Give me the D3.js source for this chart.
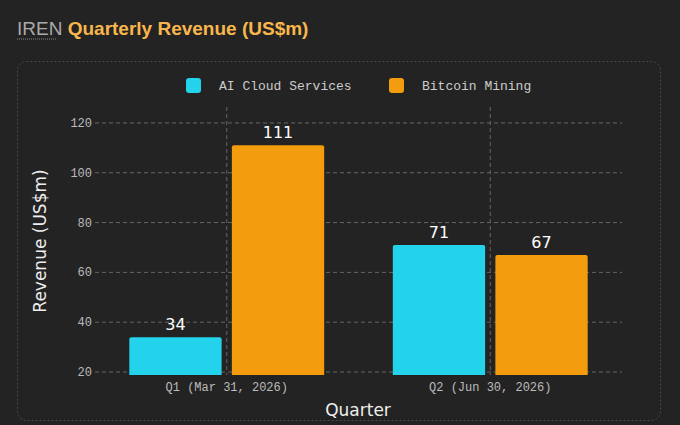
<!DOCTYPE html>
<html><head><meta charset="utf-8">
<script src="https://cdn.jsdelivr.net/npm/d3@7"></script>
<style>
body{margin:0;background:#232323;}
svg{display:block;}
</style></head>
<body><svg></svg>
<script>
const quarters = ['Q1 (Mar 31, 2026)', 'Q2 (Jun 30, 2026)']
const seriesNames = ['AI Cloud Services', 'Bitcoin Mining']
const aiCloud = [34, 71]
const bitcoin = [111, 67]
const yTicks = [20, 40, 60, 80, 100, 120]
const colors = ['#22d3eb', '#f39c0e']

const w = 680, h = 425
const svg = d3.select('svg').attr('width', w).attr('height', h)

// title
const title = svg.append('text').attr('x', 17).attr('y', 35)
	.attr('font-family', '"Liberation Sans Narrow", "Arial Narrow", "Liberation Sans", sans-serif')
	.attr('font-size', 19)
title.append('tspan').attr('fill', '#aaa').text('IREN')
title.append('tspan').attr('fill', '#f8b64c').attr('font-weight', 'bold').text(' Quarterly Revenue (US$m)')
svg.append('line').attr('x1', 17).attr('x2', 56).attr('y1', 39).attr('y2', 39)
	.attr('stroke', '#888').attr('stroke-dasharray', '1,1')

// panel
svg.append('rect').attr('x', 17.5).attr('y', 61.5).attr('width', 643).attr('height', 359).attr('rx', 9)
	.attr('fill', 'none').attr('stroke', '#4a4a4a').attr('stroke-dasharray', '2,2')

const scX = d3.scaleBand().domain(quarters).range([95, 622])
const scSub = d3.scaleBand().domain(seriesNames).range([-100, 100]).paddingInner(0.1).paddingOuter(0.025)
const scY = d3.scaleLinear().domain([18.8, 126.4]).range([375, 107])

const mono = '"Liberation Mono", "DejaVu Sans Mono", monospace'

// grid
svg.append('g').selectAll('line').data(yTicks).enter().append('line')
	.attr('x1', 95).attr('x2', 622).attr('y1', d => scY(d)).attr('y2', d => scY(d))
	.attr('stroke', '#666').attr('stroke-dasharray', '4,3')
svg.append('g').selectAll('line').data(quarters).enter().append('line')
	.attr('x1', d => scX(d) + scX.bandwidth() / 2).attr('x2', d => scX(d) + scX.bandwidth() / 2)
	.attr('y1', 107).attr('y2', 375)
	.attr('stroke', '#666').attr('stroke-dasharray', '4,3')

// bars
const rows = quarters.map((q, i) => [
	{ q, s: seriesNames[0], v: aiCloud[i], c: colors[0] },
	{ q, s: seriesNames[1], v: bitcoin[i], c: colors[1] }
]).flat()

const bx = d => scX(d.q) + scX.bandwidth() / 2 + scSub(d.s)
svg.append('g').selectAll('path').data(rows).enter().append('path')
	.attr('d', d => {
		const x0 = bx(d), x1 = x0 + scSub.bandwidth(), y0 = scY(d.v), y1 = scY(18.8), r = 2
		return `M${x0},${y1}V${y0 + r}Q${x0},${y0} ${x0 + r},${y0}H${x1 - r}Q${x1},${y0} ${x1},${y0 + r}V${y1}Z`
	})
	.attr('fill', d => d.c)

svg.append('g').selectAll('text').data(rows).enter().append('text')
	.attr('x', d => bx(d) + scSub.bandwidth() / 2).attr('y', d => scY(d.v) - 7)
	.attr('text-anchor', 'middle').attr('fill', '#fff')
	.attr('font-family', '"DejaVu Sans", sans-serif').attr('font-size', 16)
	.text(d => d.v)

// axes labels
svg.append('g').selectAll('text').data(yTicks).enter().append('text')
	.attr('x', 92).attr('y', d => scY(d) + 4).attr('text-anchor', 'end')
	.attr('fill', '#bbb').attr('font-family', mono).attr('font-size', 12).text(d => d)
svg.append('g').selectAll('text').data(quarters).enter().append('text')
	.attr('x', d => scX(d) + scX.bandwidth() / 2).attr('y', 391).attr('text-anchor', 'middle')
	.attr('fill', '#bbb').attr('font-family', mono).attr('font-size', 12).text(d => d)

svg.append('text').attr('x', 358).attr('y', 416).attr('text-anchor', 'middle')
	.attr('fill', '#eee').attr('font-family', '"DejaVu Sans", sans-serif').attr('font-size', 17).text('Quarter')
svg.append('text').attr('transform', 'translate(46,241) rotate(-90)').attr('text-anchor', 'middle')
	.attr('fill', '#eee').attr('font-family', '"DejaVu Sans", sans-serif').attr('font-size', 17).text('Revenue (US$m)')

// legend
const leg = svg.append('g').selectAll('g').data(seriesNames).enter().append('g')
	.attr('transform', (d, i) => `translate(${[186, 389][i]},78)`)
leg.append('rect').attr('width', 15).attr('height', 15).attr('rx', 3).attr('fill', (d, i) => colors[i])
leg.append('text').attr('x', 33).attr('y', 12).attr('fill', '#ccc')
	.attr('font-family', mono).attr('font-size', 13).text(d => d)
</script></body></html>
